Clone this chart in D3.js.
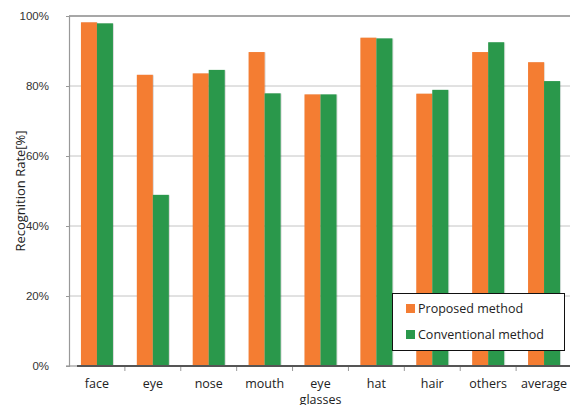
<!DOCTYPE html>
<html>
<head>
<meta charset="utf-8">
<script src="https://cdn.jsdelivr.net/npm/d3@7"></script>
<style>
  html, body { margin: 0; padding: 0; background: #fff; }
  svg { display: block; font-family: "Open Sans", "Noto Sans", sans-serif; }
</style>
</head>
<body>
<svg id="chart" width="570" height="405"></svg>
<script>
// Recognition rate per facial part, two methods
const categories = ["face", "eye", "nose", "mouth", "eye\nglasses", "hat", "hair", "others", "average"];
const proposed = [98.2, 83.2, 83.6, 89.7, 77.6, 93.8, 77.8, 89.7, 86.8];
const conventional = [97.9, 48.9, 84.6, 77.9, 77.6, 93.6, 78.9, 92.5, 81.4];
const seriesNames = ["Proposed method", "Conventional method"];
const seriesColors = ["#f47d33", "#2a984b"];
const yTicks = [0, 20, 40, 60, 80, 100];

const svg = d3.select("#chart");
const margin = { left: 69, right: -2, top: 16, bottom: 39 };
const W = 570, H = 405;

const x = d3.scaleBand().domain(categories).range([margin.left, W - margin.right]);
const y = d3.scaleLinear().domain([0, 100]).range([H - margin.bottom, margin.top]);
const inner = d3.scaleBand().domain([0, 1]).range([0, 32]);
const pairOffset = (x.bandwidth() - 32) / 2;

const g = svg.append("g");

// horizontal gridlines
g.selectAll("line.grid").data(yTicks.filter(t => t > 0 && t < 100)).join("line")
  .attr("class", "grid")
  .attr("x1", margin.left).attr("x2", W)
  .attr("y1", d => y(d)).attr("y2", d => y(d))
  .attr("stroke", "#c4c4c4").attr("stroke-width", 1);
// top line
g.append("line")
  .attr("x1", margin.left).attr("x2", W)
  .attr("y1", y(100)).attr("y2", y(100))
  .attr("stroke", "#8a8a8a").attr("stroke-width", 1.6);

// y axis
const yAxis = d3.axisLeft(y).tickValues(yTicks).tickFormat(d => d + "%").tickSize(3).tickPadding(17);
const ya = svg.append("g").attr("transform", `translate(${margin.left},0)`).call(yAxis);
ya.select(".domain").attr("stroke", "#999").attr("stroke-width", 1.2);
ya.selectAll(".tick line").attr("stroke", "#999");
ya.selectAll(".tick text").attr("fill", "#333").style("font-size", "11.5px");

// bars with soft shadow
const defs = svg.append("defs");
const f = defs.append("filter").attr("id", "shadow").attr("x", "-20%").attr("y", "-5%").attr("width", "140%").attr("height", "110%");
f.append("feDropShadow").attr("dx", 0.6).attr("dy", 0.3).attr("stdDeviation", 0.7).attr("flood-color", "#000").attr("flood-opacity", 0.25);

const rows = categories.map((c, i) => ({ c, vals: [proposed[i], conventional[i]] }));
const groups = g.selectAll("g.cat").data(rows).join("g")
  .attr("class", "cat")
  .attr("transform", d => `translate(${x(d.c) + pairOffset},0)`);
groups.selectAll("rect").data(d => d.vals).join("rect")
  .attr("x", (d, i) => inner(i))
  .attr("width", inner.bandwidth())
  .attr("y", d => y(d))
  .attr("height", d => y(0) - y(d))
  .attr("fill", (d, i) => seriesColors[i])
  .attr("filter", "url(#shadow)");

// x axis
const xa = svg.append("g").attr("transform", `translate(0,${y(0)})`);
xa.append("line").attr("x1", margin.left + 8).attr("x2", W).attr("y1", 0).attr("y2", 0)
  .attr("stroke", "#555").attr("stroke-width", 2);
xa.append("line").attr("x1", margin.left - 3).attr("x2", margin.left + 8).attr("y1", 0).attr("y2", 0)
  .attr("stroke", "#999").attr("stroke-width", 1.2);
xa.selectAll("line.xt").data(categories.slice(1)).join("line")
  .attr("class", "xt")
  .attr("x1", d => x(d)).attr("x2", d => x(d))
  .attr("y1", 1).attr("y2", 5)
  .attr("stroke", "#999");
xa.selectAll("text.xl").data(categories).join("text")
  .attr("class", "xl")
  .attr("text-anchor", "middle")
  .attr("fill", "#222")
  .style("font-size", "12.5px")
  .attr("transform", d => `translate(${x(d) + x.bandwidth() / 2},22)`)
  .each(function (d) {
    const lines = d.split("\n");
    d3.select(this).selectAll("tspan").data(lines).join("tspan")
      .attr("x", 0).attr("dy", (l, i) => i === 0 ? 0 : 16).text(l => l);
  });

// y axis title
svg.append("text")
  .attr("transform", `translate(25,${(y(0) + y(100)) / 2}) rotate(-90)`)
  .attr("text-anchor", "middle")
  .attr("fill", "#222")
  .style("font-size", "13px")
  .text("Recognition Rate[%]");

// legend
const lg = svg.append("g").attr("transform", "translate(392,293)");
lg.append("rect").attr("x", 0.5).attr("y", 0.5).attr("width", 172).attr("height", 57)
  .attr("fill", "#fff").attr("stroke", "#111").attr("stroke-width", 1);
const items = lg.selectAll("g.li").data(seriesNames).join("g")
  .attr("class", "li")
  .attr("transform", (d, i) => `translate(14,${11 + i * 26})`);
items.append("rect").attr("width", 9).attr("height", 9).attr("fill", (d, i) => seriesColors[i]);
items.append("text").attr("x", 12).attr("y", 9).attr("fill", "#222")
  .style("font-size", "12.5px").text(d => d);
</script>
</body>
</html>
